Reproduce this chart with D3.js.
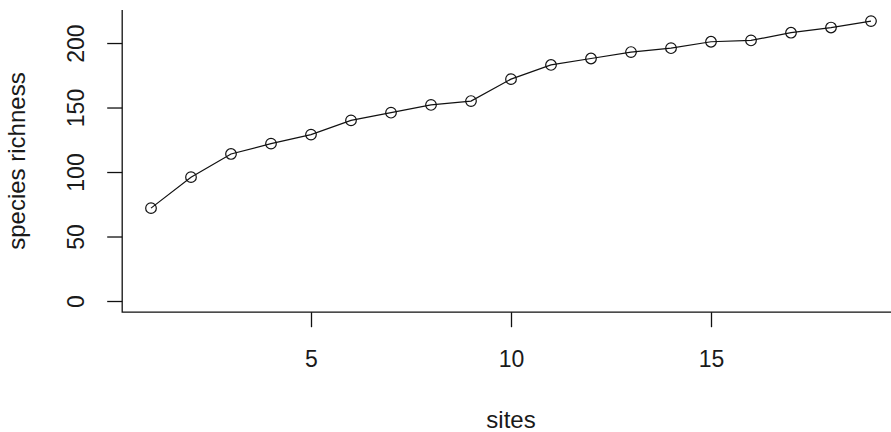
<!DOCTYPE html>
<html>
<head>
<meta charset="utf-8">
<script src="https://cdn.jsdelivr.net/npm/d3@7"></script>
<style>
  body { margin: 0; background: #fff; }
  svg { display: block; }
  text { font-family: "Liberation Sans", Arial, sans-serif; fill: #1a1a1a; }
</style>
</head>
<body>
<svg id="canvas"></svg>
<script>
// data
let sites = [1, 2, 3, 4, 5, 6, 7, 8, 9, 10, 11, 12, 13, 14, 15, 16, 17, 18, 19];
let richness = [72, 96, 114, 122, 129, 140, 146, 152, 155, 172, 183, 188, 193, 196, 201, 202, 208, 212, 217];
let xTicks = [5, 10, 15];
let yTicks = [0, 50, 100, 150, 200];

let width = 891;
let height = 432;

// plot region (R style, 4% padding on the data range)
let plotLeft = 122.2;
let plotRight = 899.8;
let plotTop = 9.9;
let plotBottom = 312.2;

let canvas = d3.select('#canvas')
    .attr('width', width)
    .attr('height', height);

let xPad = (d3.max(sites) - d3.min(sites)) * 0.04;
let yPad = (d3.max(richness) - 0) * 0.04;

let xScale = d3.scaleLinear()
    .domain([d3.min(sites) - xPad, d3.max(sites) + xPad])
    .range([plotLeft, plotRight]);
let yScale = d3.scaleLinear()
    .domain([0 - yPad, d3.max(richness) + yPad])
    .range([plotBottom, plotTop]);

// axes
let xAxis = d3.axisBottom(xScale).tickValues(xTicks).tickSize(15).tickFormat(d3.format('d'));
let yAxis = d3.axisLeft(yScale).tickValues(yTicks).tickSize(15).tickFormat(d3.format('d'));

let gx = canvas.append('g')
    .attr('id', 'x-axis')
    .attr('transform', 'translate(0, ' + plotBottom + ')')
    .call(xAxis);
gx.select('.domain').remove();
gx.selectAll('line').attr('stroke', '#111').attr('stroke-width', 1.3);
gx.selectAll('text')
    .attr('y', 55)
    .attr('dy', 0)
    .style('font-size', '23px')
    .attr('fill', '#1a1a1a');

let gy = canvas.append('g')
    .attr('id', 'y-axis')
    .attr('transform', 'translate(' + plotLeft + ', 0)')
    .call(yAxis);
gy.select('.domain').remove();
gy.selectAll('line').attr('stroke', '#111').attr('stroke-width', 1.3);
gy.selectAll('text')
    .attr('x', 0)
    .attr('dy', 0)
    .attr('text-anchor', 'middle')
    .attr('transform', 'translate(-38, 0) rotate(-90)')
    .style('font-size', '23px')
    .attr('fill', '#1a1a1a');

// L-shaped box
canvas.append('path')
    .attr('d', 'M' + plotLeft + ',' + plotTop + 'V' + plotBottom + 'H' + plotRight)
    .attr('fill', 'none')
    .attr('stroke', '#111')
    .attr('stroke-width', 1.3);

// line + open circles
let line = d3.line()
    .x((d, i) => xScale(sites[i]))
    .y((d) => yScale(d));

canvas.append('path')
    .datum(richness)
    .attr('d', line)
    .attr('fill', 'none')
    .attr('stroke', '#111')
    .attr('stroke-width', 1.2);

canvas.selectAll('circle')
    .data(richness)
    .enter()
    .append('circle')
    .attr('cx', (d, i) => xScale(sites[i]))
    .attr('cy', (d) => yScale(d))
    .attr('r', 5.3)
    .attr('fill', 'none')
    .attr('stroke', '#111')
    .attr('stroke-width', 1.2);

// axis titles
canvas.append('text')
    .attr('x', (plotLeft + plotRight) / 2)
    .attr('y', 428)
    .attr('text-anchor', 'middle')
    .style('font-size', '24px')
    .text('sites');

canvas.append('text')
    .attr('transform', 'translate(25, ' + (plotTop + plotBottom) / 2 + ') rotate(-90)')
    .attr('text-anchor', 'middle')
    .style('font-size', '24px')
    .text('species richness');
</script>
</body>
</html>
